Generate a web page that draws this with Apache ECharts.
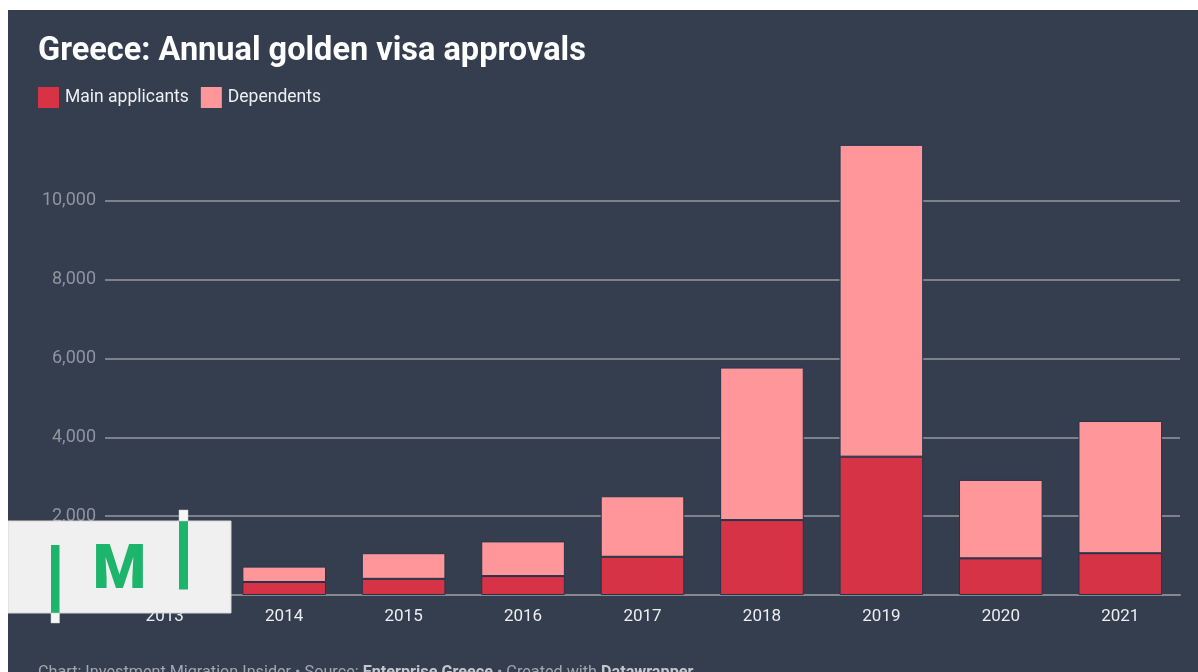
<!DOCTYPE html>
<html>
<head>
<meta charset="utf-8">
<script src="https://cdn.jsdelivr.net/npm/echarts@6/dist/echarts.min.js"></script>
<style>
  html, body { margin: 0; padding: 0; background: #ffffff; width: 1198px; height: 672px; overflow: hidden; }
  #chart { position: absolute; left: 8px; top: 10px; width: 1190px; height: 662px; }
</style>
</head>
<body>
<div id="chart"></div>
<script>
// Annual golden visa approvals in Greece, split by applicant type
const years = ['2013', '2014', '2015', '2016', '2017', '2018', '2019', '2020', '2021'];
const mainApplicants = [180, 330, 410, 480, 970, 1900, 3510, 930, 1060];
const dependents = [330, 390, 650, 880, 1535, 3870, 7910, 1990, 3355];
const seriesNames = ['Main applicants', 'Dependents'];

const BG = '#343e4f';
const MAIN_COLOR = '#d63446';
const DEP_COLOR = '#ff979a';
const GREEN = '#1db46b';
const BAR_EDGE = '#25344b';

const chart = echarts.init(document.getElementById('chart'));

// publisher badge in the lower-left corner, drawn above the plot
const badgeZ = 100;
const badge = [
  { type: 'rect', z: badgeZ, shape: { x: 0, y: 511, width: 223, height: 92 }, style: { fill: '#f0f0f0', stroke: '#d6d6d6', lineWidth: 1 } },
  { type: 'rect', z: badgeZ + 1, shape: { x: 43, y: 535, width: 8.5, height: 68 }, style: { fill: GREEN } },
  { type: 'rect', z: badgeZ + 1, shape: { x: 43, y: 603, width: 8.5, height: 10 }, style: { fill: '#f6f6f6', stroke: '#cfcfcf', lineWidth: 0.5 } },
  { type: 'rect', z: badgeZ + 1, shape: { x: 171, y: 511, width: 9, height: 68.5 }, style: { fill: GREEN } },
  { type: 'rect', z: badgeZ + 1, shape: { x: 171, y: 500, width: 9, height: 11 }, style: { fill: '#f6f6f6', stroke: '#cfcfcf', lineWidth: 0.5 } },
  {
    type: 'text', z: badgeZ + 1,
    x: 111.5, y: 563,
    style: {
      text: 'M', fill: GREEN, fontSize: 61, fontWeight: 900, fontFamily: 'Roboto',
      align: 'center', verticalAlign: 'middle'
    }
  }
];

chart.setOption({
  backgroundColor: BG,
  animation: false,
  textStyle: { fontFamily: 'Roboto' },
  title: [
    {
      text: 'Greece: Annual golden visa approvals',
      left: 30,
      top: 25,
      padding: 0,
      textStyle: { color: '#ffffff', fontSize: 32.5, fontWeight: 'bold', fontFamily: 'Roboto' }
    },
    {
      text: 'Chart: Investment Migration Insider • Source: {b|Enterprise Greece} • Created with {b|Datawrapper}',
      left: 30,
      top: 655,
      padding: 0,
      textStyle: {
        color: '#a3a8b0', fontSize: 16.2, fontWeight: 'normal', fontFamily: 'Roboto',
        rich: { b: { color: '#c4c8ce', fontSize: 16.2, fontWeight: 'bold', fontFamily: 'Roboto' } }
      }
    }
  ],
  legend: {
    left: 30,
    top: 77,
    padding: 0,
    itemWidth: 21,
    itemHeight: 21,
    itemGap: 12,
    icon: 'rect',
    data: seriesNames,
    itemStyle: { borderWidth: 0 },
    textStyle: { color: '#eef0f3', fontSize: 17.5, fontFamily: 'Roboto', padding: [0, 0, 0, 1] }
  },
  grid: { left: 97, right: 18, top: 112, bottom: 77 },
  xAxis: {
    type: 'category',
    data: years,
    axisTick: { show: false },
    axisLine: { lineStyle: { color: '#868a90', width: 2 } },
    axisLabel: { color: '#eceef1', fontSize: 17, margin: 13, fontFamily: 'Roboto' },
    splitLine: { show: false }
  },
  yAxis: {
    type: 'value',
    min: 0,
    max: 12000,
    interval: 2000,
    axisLine: { show: false },
    axisTick: { show: false },
    axisLabel: {
      color: '#8f959e', fontSize: 18, margin: 9, fontFamily: 'Roboto',
      showMaxLabel: false,
      formatter: v => (v === 0 ? '' : v.toLocaleString('en-US'))
    },
    splitLine: { show: true, showMaxLine: false, lineStyle: { color: '#7d8188', width: 2 } }
  },
  series: [
    {
      name: seriesNames[0],
      type: 'bar',
      stack: 'total',
      data: mainApplicants,
      barCategoryGap: '30%',
      itemStyle: { color: MAIN_COLOR, borderColor: BAR_EDGE, borderWidth: 1 },
      z: 2
    },
    {
      name: seriesNames[1],
      type: 'bar',
      stack: 'total',
      data: dependents,
      barCategoryGap: '30%',
      itemStyle: { color: DEP_COLOR, borderColor: BAR_EDGE, borderWidth: 1 },
      z: 2
    }
  ],
  graphic: badge
});
</script>
</body>
</html>
